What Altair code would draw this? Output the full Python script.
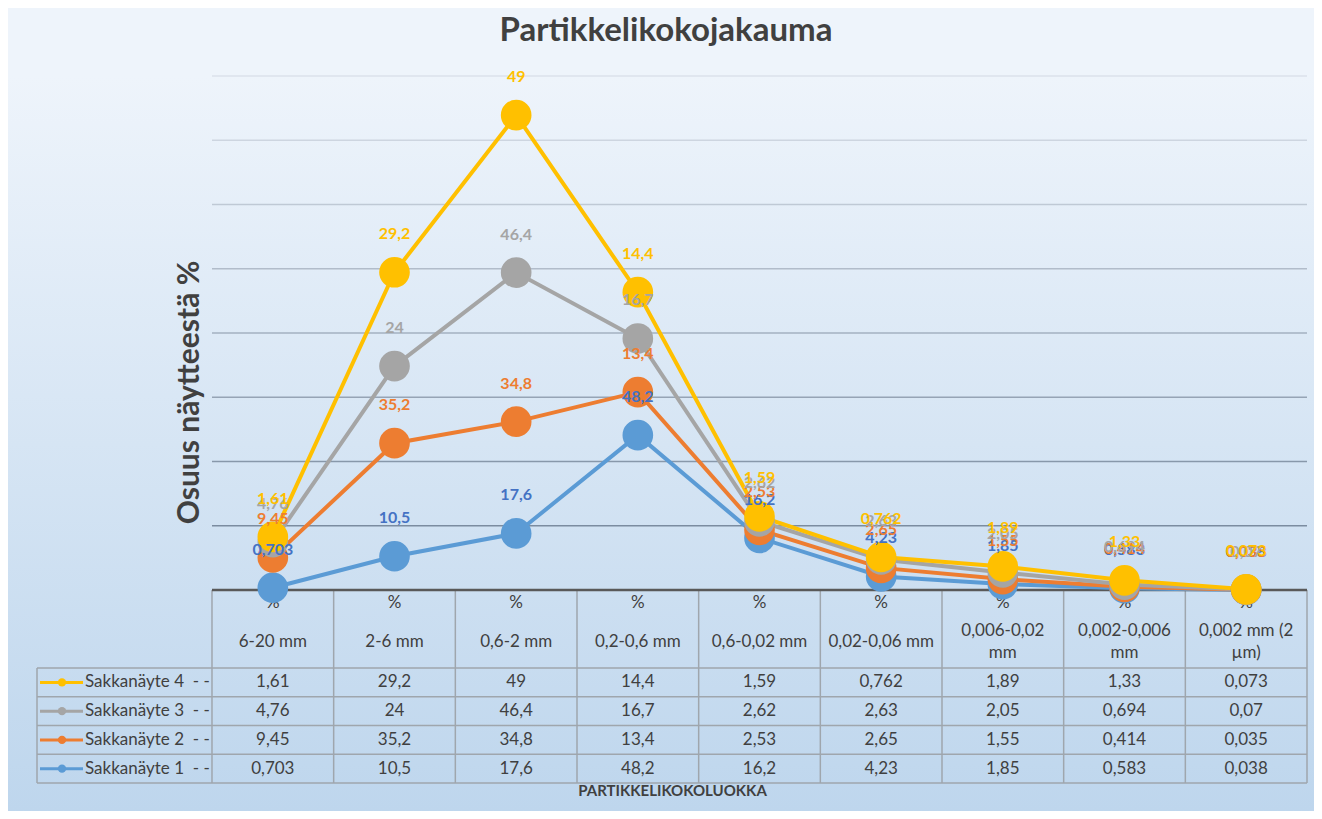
import altair as alt
import pandas as pd

# ---------------- data ----------------
categories = ["6-20 mm", "2-6 mm", "0,6-2 mm", "0,2-0,6 mm", "0,6-0,02 mm",
              "0,02-0,06 mm", "0,006-0,02\nmm", "0,002-0,006\nmm", "0,002 mm (2\nµm)"]
series_names = ["Sakkanäyte 1", "Sakkanäyte 2", "Sakkanäyte 3", "Sakkanäyte 4"]
sakka1 = [0.703, 10.5, 17.6, 48.2, 16.2, 4.23, 1.85, 0.583, 0.038]
sakka2 = [9.45, 35.2, 34.8, 13.4, 2.53, 2.65, 1.55, 0.414, 0.035]
sakka3 = [4.76, 24, 46.4, 16.7, 2.62, 2.63, 2.05, 0.694, 0.07]
sakka4 = [1.61, 29.2, 49, 14.4, 1.59, 0.762, 1.89, 1.33, 0.073]
y_ticks = [20, 40, 60, 80, 100, 120, 140, 160]

# ---------------- style ----------------
line_colors = ["#5B9BD5", "#ED7D31", "#A5A5A5", "#FFC000"]
label_colors = ["#4472C4", "#ED7D31", "#A5A5A5", "#FFC000"]
TEXT = "#404040"
FONT = "Lato"
BG_TOP = "#eef4fb"
BG_BOT = "#bed6ed"
TABLE_FS = 17

# ---------------- layout ----------------
N = len(categories)
COL_W = 121.67
LEG_W = 175.0
X_LEFT = -LEG_W / COL_W
Y_MAX = 160
CHART_H = 514
UNIT = CHART_H / Y_MAX
HEADER_H = 78
ROW_H = 28.75
LINE_H = 22
PLOT_W = 1270
PLOT_H = int(CHART_H + HEADER_H + 4 * ROW_H)
Y_MIN = -(HEADER_H + 4 * ROW_H) / UNIT
PAD_L, PAD_T, PAD_R, PAD_B = 29, 68, 7, 28


def below(px):
    """y value for a point px pixels below the category axis"""
    return -px / UNIT


def leg_x(px):
    """x value px pixels right of the table's left border"""
    return X_LEFT + px / COL_W


def fi(v):
    return f"{v:g}".replace(".", ",")


values = [sakka1, sakka2, sakka3, sakka4]

rows = []
for s, (name, vals) in enumerate(zip(series_names, values)):
    for c, v in enumerate(vals):
        rows.append({"series": name, "sidx": s, "cat": categories[c],
                     "xpos": c + 0.5, "value": v, "label": fi(v)})
main = pd.DataFrame(rows)

x_scale = alt.Scale(domain=[X_LEFT, N], nice=False, zero=False)
y_scale = alt.Scale(domain=[Y_MIN, Y_MAX], nice=False, zero=False)
x_axis = alt.Axis(title="PARTIKKELIKOKOLUOKKA", labels=False, ticks=False, domain=False,
                  grid=False, titleFont=FONT, titleFontSize=15, titleFontWeight="bold",
                  titleColor=TEXT, titlePadding=0, titleBaseline="top", zindex=1)
y_axis = alt.Axis(title="Osuus näytteestä %", labels=False, ticks=False, domain=False,
                  grid=False, titleFont=FONT, titleFontSize=30, titleFontWeight="bold",
                  titleColor=TEXT, titleAngle=270, titleAlign="center", titleBaseline="middle",
                  titleX=152, titleY=316, zindex=1)


def X(field):
    return alt.X(field, type="quantitative", scale=x_scale, axis=x_axis)


def Y(field):
    return alt.Y(field, type="quantitative", scale=y_scale, axis=y_axis)


# background gradient
bg = alt.Chart(pd.DataFrame({"k": [0]})).mark_rect(
    fill=alt.Gradient(gradient="linear",
                      stops=[alt.GradientStop(color=BG_TOP, offset=0),
                             alt.GradientStop(color=BG_BOT, offset=1)],
                      x1=0, x2=0, y1=0, y2=1)
).encode(x=alt.value(-PAD_L), x2=alt.value(PLOT_W + PAD_R),
         y=alt.value(0), y2=alt.value(PLOT_H + PAD_B))

# gridlines
grid_df = pd.DataFrame({"y": y_ticks, "x": [0] * len(y_ticks), "x2": [N] * len(y_ticks)})
grid = alt.Chart(grid_df).mark_rule(strokeWidth=1.5).encode(
    x=X("x"), x2="x2", y=Y("y"),
    stroke=alt.Stroke("y:Q", scale=alt.Scale(domain=[20, 160], range=["#7b8ca0", "#dbe2eb"]),
                      legend=None))

# table lines
hdr = below(HEADER_H)
rule_rows = []
for k in range(5):
    yy = below(HEADER_H + k * ROW_H)
    rule_rows.append({"x": X_LEFT, "x2": N, "y": yy, "y2": yy})
for c in range(N + 1):
    rule_rows.append({"x": c, "x2": c, "y": 0, "y2": Y_MIN})
rule_rows.append({"x": X_LEFT, "x2": X_LEFT, "y": hdr, "y2": Y_MIN})
table_rules = alt.Chart(pd.DataFrame(rule_rows)).mark_rule(
    stroke="#9fa6ad", strokeWidth=1.5).encode(x=X("x"), x2="x2", y=Y("y"), y2="y2")

axis_line = alt.Chart(pd.DataFrame({"x": [0], "x2": [N], "y": [0]})).mark_rule(
    stroke="#595959", strokeWidth=2.5).encode(x=X("x"), x2="x2", y=Y("y"))

# table header: "%" and category names (multi-line names centred on the cell)
hdr_df = pd.DataFrame({
    "x": [c + 0.5 for c in range(N)],
    "cat": categories,
    "pct": ["%"] * N,
    "ycat": [below(51.5 - (cat.count("\n")) * LINE_H / 2) for cat in categories],
    "ypct": [below(13)] * N,
})
hdr_pct = alt.Chart(hdr_df).mark_text(
    font=FONT, fontSize=TABLE_FS, color=TEXT, baseline="middle").encode(
    x=X("x"), y=Y("ypct"), text="pct:N")
hdr_cat = alt.Chart(hdr_df).mark_text(
    font=FONT, fontSize=TABLE_FS, color=TEXT, baseline="middle", lineBreak="\n",
    lineHeight=LINE_H).encode(x=X("x"), y=Y("ycat"), text="cat:N")

# table values
cell_rows = []
for s, (name, vals) in enumerate(zip(series_names, values)):
    r = 3 - s
    yc = below(HEADER_H + (r + 0.5) * ROW_H)
    for c, v in enumerate(vals):
        cell_rows.append({"x": c + 0.5, "y": yc, "label": fi(v)})
cells = alt.Chart(pd.DataFrame(cell_rows)).mark_text(
    font=FONT, fontSize=TABLE_FS, color=TEXT, baseline="middle").encode(
    x=X("x"), y=Y("y"), text="label:N")

# legend column
leg_rows = []
for s, name in enumerate(series_names):
    r = 3 - s
    yc = below(HEADER_H + (r + 0.5) * ROW_H)
    leg_rows.append({"series": name, "y": yc, "x1": leg_x(3), "x2": leg_x(46),
                     "xc": leg_x(25), "xt": leg_x(48),
                     "text": name + "\u00a0\u00a0-\u00a0-"})
leg_df = pd.DataFrame(leg_rows)
color_scale = alt.Scale(domain=series_names, range=line_colors)
leg_line = alt.Chart(leg_df).mark_rule(strokeWidth=3).encode(
    x=X("x1"), x2="x2", y=Y("y"),
    color=alt.Color("series:N", scale=color_scale, legend=None))
leg_dot = alt.Chart(leg_df).mark_circle(size=70, opacity=1).encode(
    x=X("xc"), y=Y("y"), color=alt.Color("series:N", scale=color_scale, legend=None))
leg_text = alt.Chart(leg_df).mark_text(
    font=FONT, fontSize=TABLE_FS, color=TEXT, align="left", baseline="middle").encode(
    x=X("xt"), y=Y("y"), text="text:N")

# stacked series
base = alt.Chart(main).transform_stack(
    stack="value", groupby=["cat"], as_=["y0", "y1"],
    sort=[alt.SortField("sidx", order="ascending")])
lines = base.mark_line(strokeWidth=4).encode(
    x=X("xpos"), y=Y("y1"),
    color=alt.Color("series:N", scale=color_scale, legend=None),
    order="xpos:Q")
points = base.mark_circle(size=940, opacity=1).encode(
    x=X("xpos"), y=Y("y1"),
    color=alt.Color("series:N", scale=color_scale, legend=None))
labels = base.mark_text(font=FONT, fontSize=16, fontWeight="bold", dy=-38,
                        baseline="middle").encode(
    x=X("xpos"), y=Y("y1"), text="label:N",
    fill=alt.Fill("series:N", scale=alt.Scale(domain=series_names, range=label_colors),
                  legend=None))

chart = alt.layer(
    bg, grid, table_rules, hdr_pct, hdr_cat, cells, leg_line, leg_dot, leg_text,
    axis_line, lines, points, labels
).properties(
    width=PLOT_W, height=PLOT_H,
    title=alt.TitleParams("Partikkelikokojakauma", font=FONT, fontSize=33,
                          fontWeight="bold", color=TEXT, anchor="middle", frame="group",
                          baseline="alphabetic", offset=-5, dx=-6),
    autosize=alt.AutoSizeParams(type="none"),
    padding={"left": PAD_L, "top": PAD_T, "right": PAD_R, "bottom": PAD_B},
).configure(background=BG_TOP).configure_view(stroke=None)

chart.save("out.html", embed_options={"renderer": "svg", "actions": False})
